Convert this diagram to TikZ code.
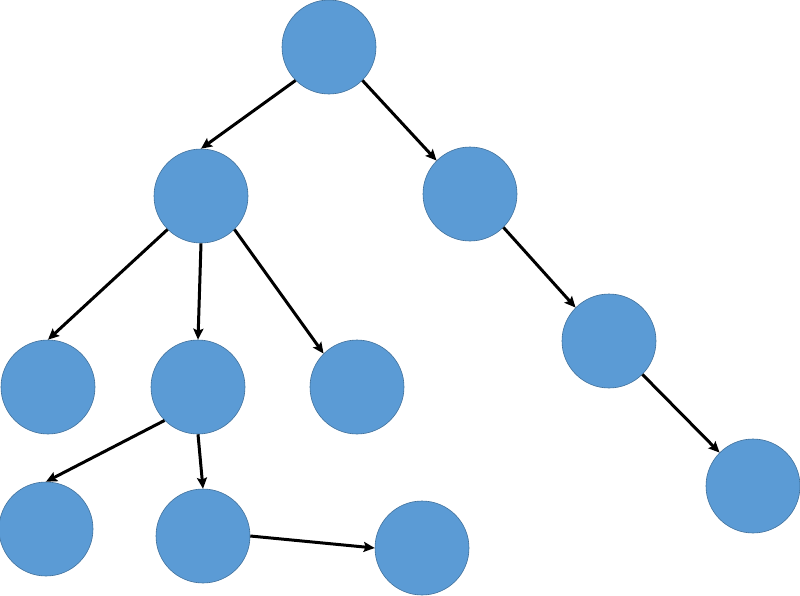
\documentclass[tikz,border=0pt]{standalone}
\usetikzlibrary{arrows.meta}
\definecolor{nodefill}{HTML}{5B9BD5}
\definecolor{nodeline}{HTML}{41719C}
\begin{document}
\begin{tikzpicture}[x=1pt,y=-1pt,
  tnode/.style={circle,fill=nodefill,draw=nodeline,line width=0.6pt,minimum size=94pt,inner sep=0pt},
  conn/.style={line width=3pt,-{Stealth[length=11pt,width=10pt,inset=2pt]}}]
\useasboundingbox (0,0) rectangle (800,595);
\node[tnode] (r) at (329,47) {};
\node[tnode] (a) at (201,196) {};
\node[tnode] (b) at (470,194) {};
\node[tnode] (c) at (48,387) {};
\node[tnode] (d) at (198,387) {};
\node[tnode] (e) at (357,387) {};
\node[tnode] (f) at (609,341) {};
\node[tnode] (g) at (46,529) {};
\node[tnode] (h) at (203,536) {};
\node[tnode] (i) at (422,548) {};
\node[tnode] (j) at (753,486) {};
\draw[conn] (r.south west) -- (a.north);
\draw[conn] (r.south east) -- (b.north west);
\draw[conn] (a.south west) -- (c.north);
\draw[conn] (a.south) -- (d.north);
\draw[conn] (a.south east) -- (e.north west);
\draw[conn] (b.south east) -- (f.north west);
\draw[conn] (f.south east) -- (j.north west);
\draw[conn] (d.south west) -- (g.north);
\draw[conn] (d.south) -- (h.north);
\draw[conn] (h.east) -- (i.west);
\end{tikzpicture}
\end{document}
